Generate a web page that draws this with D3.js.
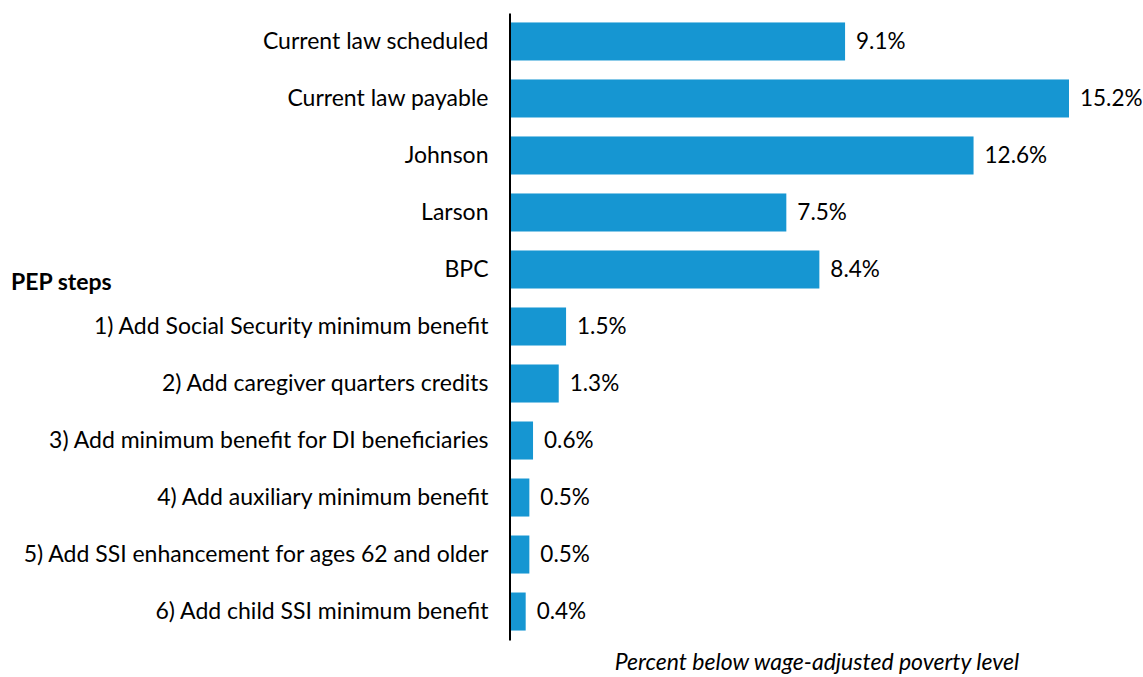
<!DOCTYPE html>
<html>
<head>
<meta charset="utf-8">
<script src="https://cdn.jsdelivr.net/npm/d3@7"></script>
<style>
  body { margin: 0; background: #fff; }
  text { font-family: Lato, "Open Sans", sans-serif; fill: #000; }
</style>
</head>
<body>
<script>
const categories = [
  "Current law scheduled",
  "Current law payable",
  "Johnson",
  "Larson",
  "BPC",
  "1) Add Social Security minimum benefit",
  "2) Add caregiver quarters credits",
  "3) Add minimum benefit for DI beneficiaries",
  "4) Add auxiliary minimum benefit",
  "5) Add SSI enhancement for ages 62 and older",
  "6) Add child SSI minimum benefit"
];
const values = [9.1, 15.2, 12.6, 7.5, 8.4, 1.5, 1.3, 0.6, 0.5, 0.5, 0.4];

const w = 1143;
const h = 677;
const x0 = 511;

const svg = d3.select("body")
              .append("svg")
              .attr("width", w)
              .attr("height", h);

const xScale = d3.scaleLinear()
                 .domain([0, 15.2])
                 .range([x0, 1069]);

const yScale = d3.scaleBand()
                 .domain(categories)
                 .range([13, 640])
                 .paddingInner(0.333)
                 .paddingOuter(0.166);

svg.selectAll("rect")
   .data(values)
   .enter()
   .append("rect")
   .attr("x", xScale(0))
   .attr("y", (d, i) => yScale(categories[i]))
   .attr("width", d => xScale(d) - xScale(0))
   .attr("height", yScale.bandwidth())
   .attr("fill", "#1696d2");

svg.selectAll(".val")
   .data(values)
   .enter()
   .append("text")
   .attr("class", "val")
   .attr("x", d => xScale(d) + 11)
   .attr("y", (d, i) => yScale(categories[i]) + yScale.bandwidth() / 2)
   .attr("dy", "0.35em")
   .style("font-size", "22.5px")
   .text(d => d.toFixed(1) + "%");

const yAxis = d3.axisLeft(yScale).tickSize(0).tickPadding(21);
const gy = svg.append("g")
              .attr("transform", "translate(509.5,0)")
              .call(yAxis);
gy.select(".domain").attr("stroke", "#000").attr("stroke-width", 2);
gy.selectAll("text")
  .style("font-size", "23px")
  .style("font-family", "Lato, sans-serif")
  .attr("fill", "#000");

svg.append("text")
   .attr("x", 11)
   .attr("y", yScale(categories[4]) + yScale.bandwidth() / 2 + 12)
   .attr("dy", "0.35em")
   .style("font-size", "23px")
   .style("font-weight", "bold")
   .text("PEP steps");

svg.append("text")
   .attr("x", 817)
   .attr("y", 670)
   .attr("text-anchor", "middle")
   .style("font-size", "23px")
   .style("font-style", "italic")
   .text("Percent below wage-adjusted poverty level");
</script>
</body>
</html>
